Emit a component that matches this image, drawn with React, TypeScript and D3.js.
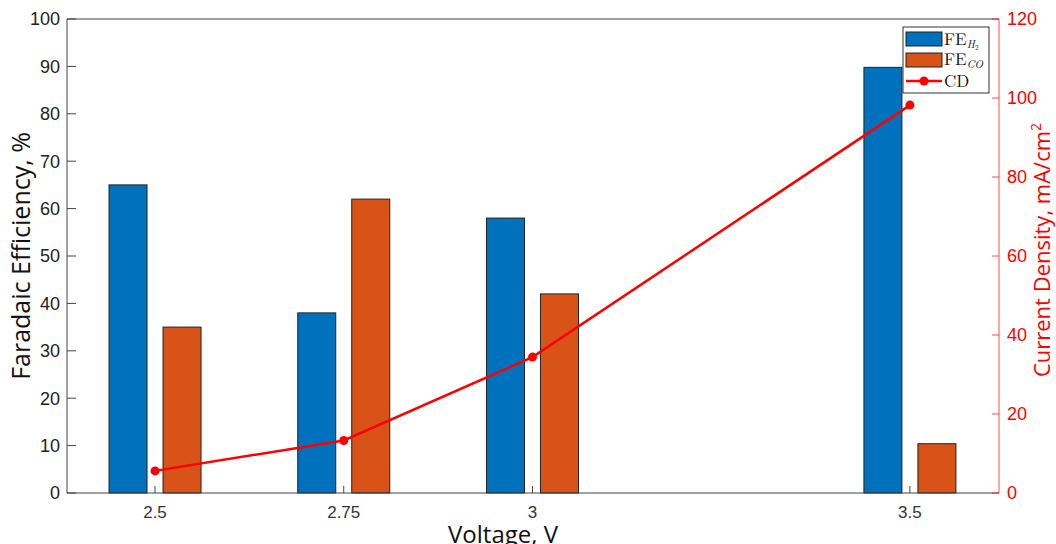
import React from "react";
import * as d3 from "d3";

// Cell voltages (V) and measured values
const voltages = [2.5, 2.75, 3, 3.5];
const voltageLabels = ["2.5", "2.75", "3", "3.5"];
const feH2 = [65, 38, 58, 89.8];
const feCO = [35, 62, 42, 10.4];
const currentDensity = [5.6, 13.3, 34.4, 98.2];
const leftTicks = [0, 10, 20, 30, 40, 50, 60, 70, 80, 90, 100];
const rightTicks = [0, 20, 40, 60, 80, 100, 120];

const W = 1056;
const H = 544;
const M = { left: 67, right: 999, top: 19, bottom: 493 };

const BLUE = "#0072BD";
const ORANGE = "#D95319";
const RED = "#FF0000";
const AXIS = "#444";

export default function App() {
  const x = d3.scaleLinear().domain([2.3834, 3.618]).range([M.left, M.right]);
  const yL = d3.scaleLinear().domain([0, 100]).range([M.bottom, M.top]);
  const yR = d3.scaleLinear().domain([0, 120]).range([M.bottom, M.top]);
  const barW = 38;
  const off = 27;

  const line = d3
    .line<number>()
    .x((_, i) => x(voltages[i]))
    .y((d) => yR(d));

  const sans = "'Liberation Sans', Arial, sans-serif";
  const titleFont = "'Open Sans', 'Noto Sans', sans-serif";
  const serif = "'Latin Modern Roman', 'DejaVu Serif', 'Liberation Serif', serif";

  return (
    <svg
      width={W}
      height={H}
      style={{ position: "absolute", left: 0, top: 0, background: "#fff" }}
    >
      <rect width={W} height={H} fill="#fff" />

      {/* bars */}
      {voltages.map((v, i) => (
        <g key={"b" + i}>
          <rect
            x={x(v) - off - barW / 2}
            y={yL(feH2[i])}
            width={barW}
            height={yL(0) - yL(feH2[i])}
            fill={BLUE}
            stroke="#222"
            strokeWidth={1}
          />
          <rect
            x={x(v) + off - barW / 2}
            y={yL(feCO[i])}
            width={barW}
            height={yL(0) - yL(feCO[i])}
            fill={ORANGE}
            stroke="#222"
            strokeWidth={1}
          />
        </g>
      ))}

      {/* box: top and bottom in gray, left axis */}
      <line x1={M.left} x2={M.right} y1={M.top} y2={M.top} stroke={AXIS} strokeWidth={1} />
      <line x1={M.left} x2={M.right} y1={M.bottom} y2={M.bottom} stroke={AXIS} strokeWidth={1} />
      <line x1={M.left} x2={M.left} y1={M.top} y2={M.bottom} stroke={AXIS} strokeWidth={1} />

      {/* left ticks */}
      {leftTicks.map((t) => (
        <g key={"l" + t}>
          <line x1={M.left} x2={M.left + 9} y1={yL(t)} y2={yL(t)} stroke={AXIS} />
          <text
            x={M.left - 7}
            y={yL(t)}
            dy="0.36em"
            textAnchor="end"
            fontFamily={sans}
            fontSize={18}
            fill="#222"
          >
            {t}
          </text>
        </g>
      ))}

      {/* bottom ticks */}
      {voltages.map((v, i) => (
        <g key={"x" + i}>
          <line x1={x(v)} x2={x(v)} y1={M.bottom} y2={M.bottom - 7} stroke={AXIS} />
          <text
            x={x(v)}
            y={M.bottom + 25}
            textAnchor="middle"
            fontFamily={sans}
            fontSize={17}
            fill="#333"
          >
            {voltageLabels[i]}
          </text>
        </g>
      ))}

      {/* right axis */}
      <line x1={M.right} x2={M.right} y1={M.top} y2={M.bottom} stroke={RED} strokeOpacity={0.7} />
      {rightTicks.map((t) => (
        <g key={"r" + t}>
          <line x1={M.right} x2={M.right - 7} y1={yR(t)} y2={yR(t)} stroke={RED} strokeOpacity={0.7} />
          <text
            x={M.right + 8}
            y={yR(t)}
            dy="0.36em"
            textAnchor="start"
            fontFamily={sans}
            fontSize={18}
            fill={RED}
          >
            {t}
          </text>
        </g>
      ))}

      {/* current density line */}
      <path d={line(currentDensity) || ""} fill="none" stroke={RED} strokeWidth={2.5} />
      {currentDensity.map((c, i) => (
        <circle key={"p" + i} cx={x(voltages[i])} cy={yR(c)} r={4.5} fill={RED} />
      ))}

      {/* axis titles */}
      <text
        transform={`translate(30,${(M.top + M.bottom) / 2}) rotate(-90)`}
        textAnchor="middle"
        fontFamily={titleFont}
        fontSize={25}
        fill="#111"
      >
        Faradaic Efficiency, %
      </text>
      <text
        transform={`translate(1050,${(M.top + M.bottom) / 2 - 6}) rotate(-90)`}
        textAnchor="middle"
        fontFamily={titleFont}
        fontSize={22}
        fill={RED}
      >
        Current Density, mA/cm<tspan dy="-9" fontSize={14}>2</tspan>
      </text>
      <text
        x={(M.left + M.right) / 2 - 30}
        y={543}
        textAnchor="middle"
        fontFamily={titleFont}
        fontSize={24}
        fill="#111"
      >
        Voltage, V
      </text>

      {/* legend */}
      <g>
        <rect x={903} y={27} width={86} height={66} fill="#fff" stroke="#333" strokeWidth={1} />
        <rect x={906} y={32} width={36} height={14} fill={BLUE} stroke="#222" />
        <rect x={906} y={53} width={36} height={14} fill={ORANGE} stroke="#222" />
        <line x1={906} x2={942} y1={81} y2={81} stroke={RED} strokeWidth={2.5} />
        <circle cx={924} cy={81} r={4.5} fill={RED} />
        <text x={944} y={45} fontFamily={serif} fontSize={17} fill="#111">
          FE
          <tspan fontStyle="italic" fontSize={11} dy="3">H</tspan>
          <tspan fontSize={7} dy="2">2</tspan>
        </text>
        <text x={944} y={65} fontFamily={serif} fontSize={17} fill="#111">
          FE
          <tspan fontStyle="italic" fontSize={11} dy="3">CO</tspan>
        </text>
        <text x={944} y={87} fontFamily={serif} fontSize={17} fill="#111">
          CD
        </text>
      </g>
    </svg>
  );
}
